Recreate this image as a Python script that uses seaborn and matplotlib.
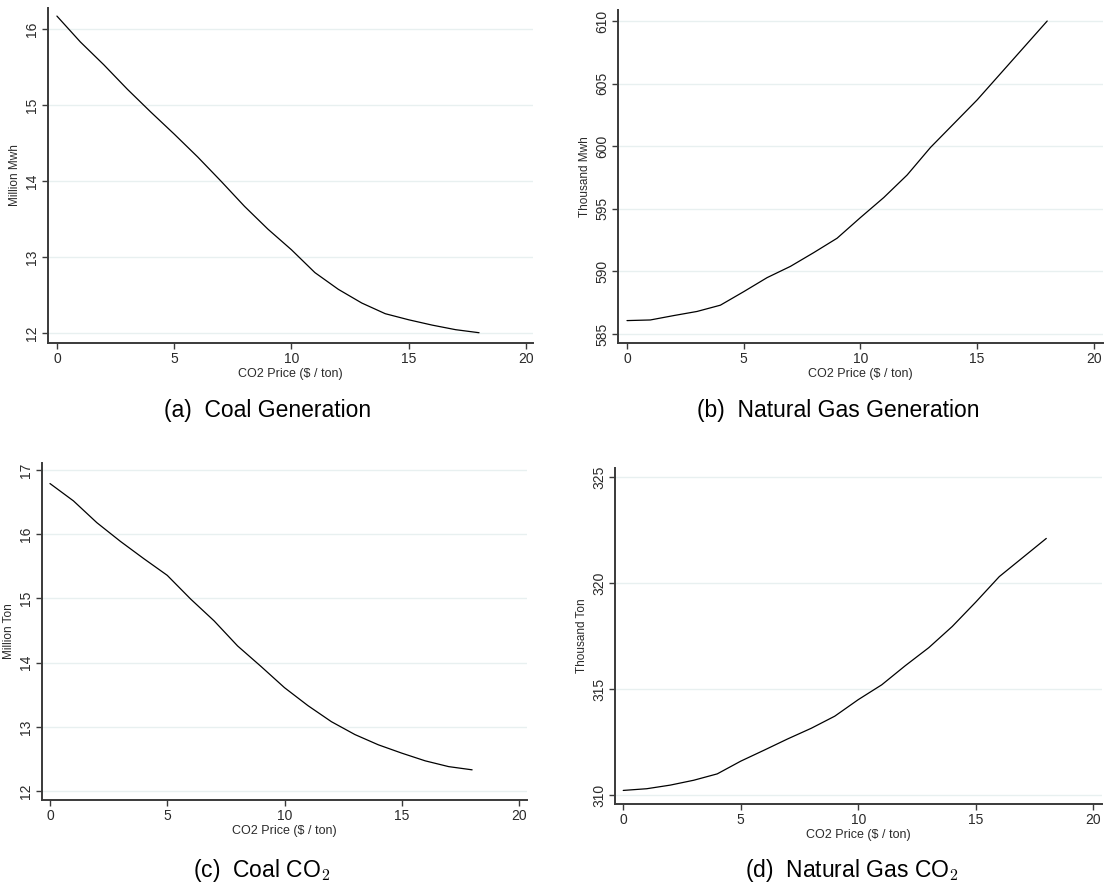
import matplotlib
matplotlib.use("Agg")
import matplotlib.pyplot as plt
import seaborn as sns
import pandas as pd

# CO2 price grid ($ / ton)
co2_price = [0, 1, 2, 3, 4, 5, 6, 7, 8, 9, 10, 11, 12, 13, 14, 15, 16, 17, 18]

# Simulated outcomes at each price
coal_generation = [16.17, 15.83, 15.53, 15.21, 14.91, 14.62, 14.32, 14.00, 13.67, 13.37,
                   13.10, 12.80, 12.58, 12.40, 12.26, 12.18, 12.11, 12.05, 12.01]
gas_generation = [586.07, 586.12, 586.47, 586.80, 587.30, 588.38, 589.50, 590.40, 591.50, 592.65,
                  594.30, 595.90, 597.70, 599.90, 601.80, 603.70, 605.80, 607.90, 610.00]
coal_co2 = [16.79, 16.52, 16.18, 15.89, 15.62, 15.36, 14.99, 14.65, 14.26, 13.94,
            13.61, 13.33, 13.08, 12.88, 12.72, 12.59, 12.47, 12.38, 12.33]
gas_co2 = [310.22, 310.30, 310.47, 310.70, 311.00, 311.60, 312.12, 312.65, 313.15, 313.72,
           314.50, 315.20, 316.10, 316.95, 317.95, 319.10, 320.30, 321.20, 322.10]

x_ticks = [0, 5, 10, 15, 20]
x_label = "CO2 Price ($ / ton)"

panels = [
    # series, y label, y ticks, caption, axes box (px: left, right, top, bottom), xlim, ylim, caption centre
    dict(y=coal_generation, ylabel="Million Mwh", yticks=[12, 13, 14, 15, 16],
         caption="(a)  Coal Generation", box=(48, 533, 8, 343),
         xlim=(-0.38, 20.3), ylim=(11.875, 16.276), cap=(268, 411)),
    dict(y=gas_generation, ylabel="Thousand Mwh", yticks=[585, 590, 595, 600, 605, 610],
         caption="(b)  Natural Gas Generation", box=(618, 1103, 10, 343),
         xlim=(-0.385, 20.39), ylim=(584.28, 610.88), cap=(838, 411)),
    dict(y=coal_co2, ylabel="Million Ton", yticks=[12, 13, 14, 15, 16, 17],
         caption="(c)  Coal CO$_2$", box=(42, 527, 463, 800),
         xlim=(-0.34, 20.34), ylim=(11.86, 17.11), cap=(262, 871)),
    dict(y=gas_co2, ylabel="Thousand Ton", yticks=[310, 315, 320, 325],
         caption="(d)  Natural Gas CO$_2$", box=(615, 1102, 468, 804),
         xlim=(-0.35, 20.37), ylim=(309.58, 325.42), cap=(852, 871)),
]

sns.set_theme(style="white")
plt.rcParams["font.family"] = ["Liberation Sans", "DejaVu Sans"]
plt.rcParams["mathtext.fontset"] = "cm"

W, H = 1105, 889
fig = plt.figure(figsize=(W / 100, H / 100), dpi=100)
fig.patch.set_facecolor("white")

axis_color = "#3a3a3a"
text_color = "#2a2a2a"
grid_color = "#e8f0f0"

for p in panels:
    left, right, top, bottom = p["box"]
    ax = fig.add_axes([left / W, 1 - bottom / H, (right - left) / W, (bottom - top) / H])
    df = pd.DataFrame({"price": co2_price, "value": p["y"]})
    sns.lineplot(data=df, x="price", y="value", ax=ax, color="black", linewidth=0.9)

    ax.set_xlim(*p["xlim"])
    ax.set_ylim(*p["ylim"])
    ax.set_xticks(x_ticks)
    ax.set_yticks(p["yticks"])
    ax.set_xticklabels([str(t) for t in x_ticks])
    ax.set_yticklabels([str(t) for t in p["yticks"]], rotation=90, va="center")

    ax.yaxis.grid(True, color=grid_color, linewidth=1.0)
    ax.xaxis.grid(False)
    ax.set_axisbelow(True)

    for side in ("top", "right"):
        ax.spines[side].set_visible(False)
    for side in ("left", "bottom"):
        ax.spines[side].set_color(axis_color)
        ax.spines[side].set_linewidth(1.4)

    ax.tick_params(axis="both", which="major", direction="out", length=4, width=1,
                   color=axis_color, labelcolor=text_color, labelsize=10, pad=2.5,
                   bottom=True, left=True)

    ax.set_xlabel(x_label, fontsize=9, color=text_color, labelpad=1.5)
    ax.set_ylabel(p["ylabel"], fontsize=8.5, color=text_color, labelpad=3)

    cx, cy = p["cap"]
    fig.text(cx / W, 1 - cy / H, p["caption"], ha="center", va="center",
             fontsize=16.5, color="black")

fig.savefig("out.png", dpi=100, facecolor="white")
